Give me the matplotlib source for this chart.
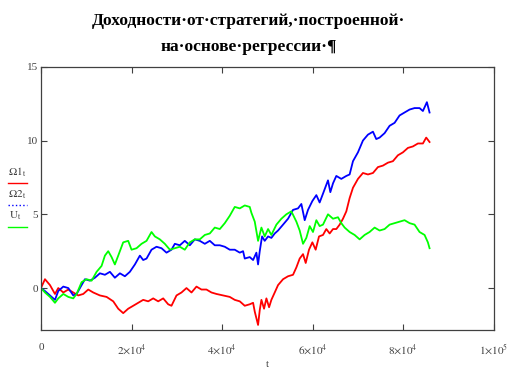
import matplotlib
matplotlib.use("Agg")
import matplotlib.pyplot as plt
import numpy as np

plt.rcParams['font.family'] = ['Liberation Serif', 'DejaVu Serif']
plt.rcParams['mathtext.fontset'] = 'stix'

# t in thousands
t_red = [0, 0.88, 1.99, 3.09, 3.82, 4.93, 6.03, 7.13, 8.24, 9.34, 10.44, 11.54, 13.01, 14.49,
         15.96, 17.06, 18.16, 19.26, 20.37, 21.47, 22.57, 23.68, 24.78, 25.88, 26.99, 28.09,
         28.82, 29.93, 31.03, 32.13, 33.24, 34.34, 35.44, 36.54, 37.65, 38.75, 40.22, 41.69,
         42.79, 43.90, 45.0, 46.10, 46.84, 47.21, 47.94, 48.31, 48.68, 49.26, 49.78, 50.37,
         50.88, 51.62, 52.35, 53.46, 54.56, 55.66, 56.40, 57.13, 57.87, 58.46, 59.19, 59.93,
         60.66, 61.40, 62.28, 63.01, 63.75, 64.49, 65.22, 65.96, 66.69, 67.43, 68.16, 68.90,
         70.0, 71.10, 72.21, 73.31, 74.41, 75.51, 76.62, 77.72, 78.82, 79.93, 81.03, 82.13,
         83.24, 84.34, 85.07, 85.81]
red = [0.0, 0.6, 0.2, -0.4, 0.0, -0.3, -0.1, -0.3, -0.5, -0.4, -0.1, -0.3, -0.5, -0.6,
       -0.9, -1.4, -1.7, -1.4, -1.2, -1.0, -0.8, -0.9, -0.7, -0.9, -0.7, -1.1,
       -1.2, -0.5, -0.3, 0.0, -0.3, 0.1, -0.1, -0.1, -0.3, -0.4, -0.5, -0.6,
       -0.8, -0.9, -1.2, -1.1, -1.0, -1.6, -2.5, -1.5, -0.8, -1.4, -0.7, -1.3,
       -0.8, -0.3, 0.2, 0.6, 0.8, 0.9, 1.4, 2.0, 2.3, 1.7, 2.6, 3.1,
       2.6, 3.5, 3.6, 4.0, 3.7, 4.0, 4.0, 4.3, 4.7, 5.2, 6.1, 6.8,
       7.4, 7.8, 7.7, 7.8, 8.2, 8.3, 8.5, 8.6, 9.0, 9.2, 9.5, 9.6,
       9.8, 9.8, 10.2, 9.9]

t_blue = [0, 0.88, 1.99, 3.09, 3.82, 4.93, 6.03, 7.13, 7.87, 8.60, 9.71, 10.81, 11.91, 13.01,
          14.12, 15.22, 16.32, 17.43, 18.53, 19.63, 20.74, 21.84, 22.57, 23.31, 24.41, 25.51,
          26.62, 27.72, 28.82, 29.56, 30.66, 31.76, 32.87, 33.97, 35.07, 36.18, 37.28, 38.38,
          39.49, 40.59, 41.69, 42.79, 43.90, 44.63, 45.0, 46.10, 46.84, 47.57, 47.94, 48.31,
          48.82, 49.41, 50.15, 50.88, 51.62, 52.35, 53.46, 54.56, 55.66, 56.76, 57.50, 58.24,
          58.97, 59.93, 60.81, 61.54, 62.28, 63.38, 63.90, 64.49, 65.22, 66.32, 67.43, 68.16,
          68.90, 70.0, 71.10, 72.21, 73.31, 74.04, 74.78, 75.88, 76.99, 78.09, 79.19, 80.29,
          81.40, 82.50, 83.60, 84.34, 85.22, 85.81]
blue = [0.0, -0.2, -0.5, -0.8, -0.2, 0.1, 0.0, -0.5, -0.4, 0.0, 0.6, 0.5, 0.7, 1.0,
        0.9, 1.1, 0.7, 1.0, 0.8, 1.1, 1.6, 2.2, 1.9, 2.0, 2.6, 2.8,
        2.7, 2.4, 2.6, 3.0, 2.9, 3.2, 2.9, 3.3, 3.2, 3.0, 3.2, 2.9,
        2.9, 2.8, 2.6, 2.6, 2.4, 2.5, 2.0, 2.1, 1.9, 2.4, 1.6, 2.5,
        3.5, 3.2, 3.5, 3.4, 3.7, 3.9, 4.3, 4.7, 5.3, 5.4, 5.7, 4.6,
        5.3, 5.9, 6.3, 5.8, 6.4, 7.3, 6.5, 7.1, 7.6, 7.4, 7.6, 7.7,
        8.6, 9.2, 10.0, 10.4, 10.6, 10.1, 10.2, 10.5, 11.0, 11.2, 11.7, 11.9,
        12.1, 12.2, 12.2, 12.0, 12.6, 11.9]

t_green = [0, 0.88, 1.99, 3.09, 3.82, 4.93, 6.03, 7.13, 7.87, 8.97, 10.07, 11.18, 12.28, 13.38,
           14.12, 14.85, 15.59, 16.32, 17.06, 18.16, 19.26, 20.0, 21.10, 22.21, 23.31, 24.41,
           25.15, 26.25, 27.35, 28.46, 29.56, 30.66, 31.76, 32.87, 33.97, 35.07, 36.18, 37.28,
           38.38, 39.49, 40.59, 41.69, 42.79, 43.90, 45.0, 46.10, 46.47, 47.21, 47.94, 48.68,
           49.41, 50.15, 50.88, 51.99, 53.09, 54.19, 55.29, 56.40, 57.13, 57.87, 58.60, 59.34,
           60.07, 60.81, 61.54, 62.28, 63.38, 64.49, 65.59, 66.32, 67.06, 68.16, 69.26, 70.37,
           71.47, 72.57, 73.68, 74.78, 75.88, 76.99, 78.09, 79.19, 80.29, 81.40, 82.50, 83.60,
           84.71, 85.44, 85.81]
green = [0.0, -0.3, -0.6, -1.0, -0.7, -0.4, -0.6, -0.7, -0.4, 0.4, 0.6, 0.5, 1.1, 1.5,
         2.2, 2.5, 2.1, 1.6, 2.2, 3.1, 3.2, 2.6, 2.7, 3.0, 3.2, 3.8,
         3.5, 3.3, 3.0, 2.6, 2.7, 2.8, 2.6, 3.1, 3.3, 3.3, 3.6, 3.7,
         4.1, 4.0, 4.4, 4.9, 5.5, 5.4, 5.6, 5.5, 5.1, 4.5, 3.2, 4.1,
         3.5, 4.0, 3.6, 4.3, 4.7, 5.0, 5.2, 4.5, 3.9, 3.0, 3.4, 4.2,
         3.8, 4.6, 4.2, 4.3, 5.0, 4.7, 4.8, 4.4, 4.1, 3.8, 3.6, 3.3,
         3.6, 3.8, 4.1, 3.9, 4.0, 4.3, 4.4, 4.5, 4.6, 4.4, 4.3, 3.8,
         3.6, 3.1, 2.7]

x_ticks = [0, 20000, 40000, 60000, 80000, 100000]
x_labels = ["0", r"$2{\times}10^{4}$", r"$4{\times}10^{4}$", r"$6{\times}10^{4}$",
            r"$8{\times}10^{4}$", r"$1{\times}10^{5}$"]
y_ticks = [0, 5, 10, 15]

fig = plt.figure(figsize=(5.22, 3.73), dpi=100)
ax = fig.add_axes([0.0785, 0.115, 0.8675, 0.706])

ax.plot(np.array(t_red) * 1000, red, color='#ff0000', lw=1.3)
ax.plot(np.array(t_blue) * 1000, blue, color='#0000ff', lw=1.3)
ax.plot(np.array(t_green) * 1000, green, color='#00ff00', lw=1.3)

ax.set_xlim(0, 100000)
ax.set_ylim(-2.85, 15)
ax.set_xticks(x_ticks)
ax.set_xticklabels(x_labels)
ax.set_yticks(y_ticks)
ax.tick_params(direction='in', top=True, right=True, length=4, width=0.8,
               labelsize=8, colors='#404040')
ax.tick_params(axis='x', pad=9)
ax.tick_params(axis='y', pad=2)
for s in ax.spines.values():
    s.set_color('#404040')
    s.set_linewidth(0.9)
ax.set_xlabel("t", fontsize=8, color='#404040', labelpad=2)

fig.text(0.476, 0.945, "Доходности·от·стратегий,·построенной·", ha='center', va='center',
         fontsize=12.5, fontweight='bold')
fig.text(0.476, 0.875, "на·основе·регрессии·¶", ha='center', va='center',
         fontsize=12.5, fontweight='bold')

# legend at the left
fig.text(0.032, 0.539, r"$\Omega1_{\mathrm{t}}$", fontsize=8, color='#404040',
         ha='center', va='center')
fig.add_artist(plt.Line2D([0.015, 0.052], [0.509, 0.509], color='#ff0000', lw=1.0))
fig.text(0.032, 0.478, r"$\Omega2_{\mathrm{t}}$", fontsize=8, color='#404040',
         ha='center', va='center')
fig.add_artist(plt.Line2D([0.015, 0.052], [0.450, 0.450], color='#0000ff', lw=1.0, ls=':'))
fig.text(0.030, 0.421, r"$\mathrm{U}_{\mathrm{t}}$", fontsize=8, color='#404040',
         ha='center', va='center')
fig.add_artist(plt.Line2D([0.015, 0.052], [0.391, 0.391], color='#00ff00', lw=1.0))

fig.savefig("out.png", dpi=100)
